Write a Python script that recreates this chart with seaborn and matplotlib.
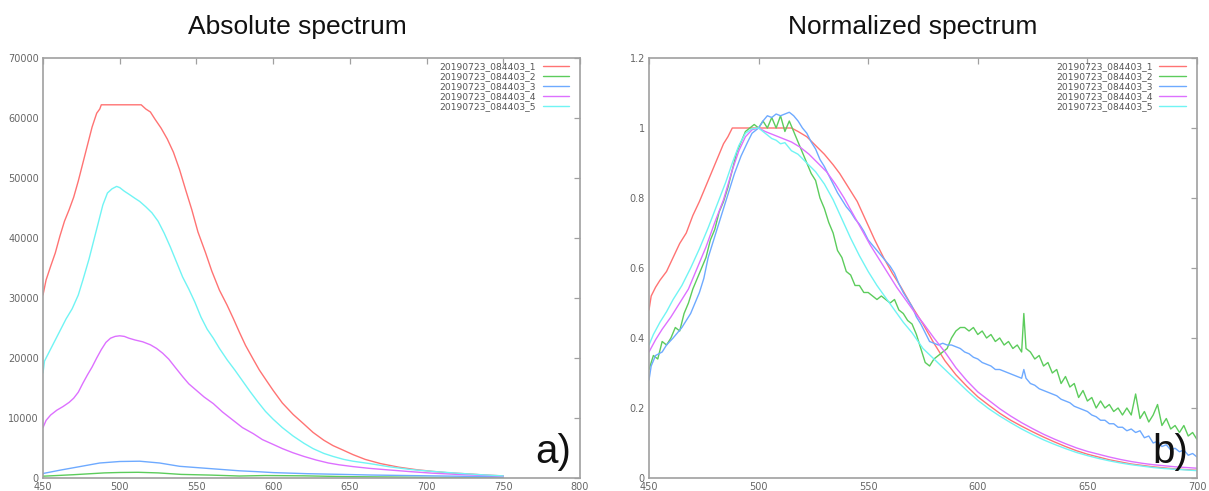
import matplotlib
matplotlib.use("Agg")
import matplotlib.pyplot as plt
import pandas as pd
import seaborn as sns

# ---------------- data ----------------
series_labels = ["20190723_084403_1", "20190723_084403_2", "20190723_084403_3",
                 "20190723_084403_4", "20190723_084403_5"]

# Absolute spectrum (wavelength nm, counts)
abs_1 = [(450, 30500), (452, 33000), (455, 35300), (458, 37500), (461, 40300), (464, 42800),
         (467, 44700), (470, 46800), (473, 49500), (476, 52500), (479, 55500), (482, 58500),
         (485, 60800), (487, 61500), (488, 62200), (500, 62200), (514, 62200), (517, 61500),
         (520, 61000), (523, 59800), (527, 58300), (531, 56500), (535, 54300), (539, 51400),
         (543, 48000), (547, 44700), (551, 41000), (556, 37500), (560, 34500), (565, 31300),
         (570, 28800), (574, 26600), (578, 24300), (582, 22100), (587, 19800), (591, 18000),
         (596, 16100), (600, 14600), (606, 12500), (613, 10600), (620, 9000), (626, 7600),
         (633, 6300), (639, 5400), (646, 4600), (652, 3900), (660, 3100), (670, 2400),
         (682, 1800), (693, 1400), (704, 1100), (715, 850), (726, 700), (738, 500), (750, 350)]
abs_2 = [(450, 300), (470, 550), (490, 850), (500, 920), (512, 950), (525, 850), (540, 600),
         (560, 480), (578, 330), (595, 410), (620, 360), (650, 220), (675, 170), (700, 110),
         (725, 70), (750, 40)]
abs_3 = [(450, 750), (461, 1300), (474, 1900), (487, 2500), (500, 2750), (513, 2800),
         (526, 2500), (539, 1950), (552, 1700), (565, 1450), (578, 1200), (590, 1050),
         (600, 900), (622, 720), (645, 600), (663, 500), (690, 400), (720, 300), (750, 200)]
abs_4 = [(450, 8400), (452, 9600), (455, 10500), (459, 11300), (463, 11900), (467, 12600),
         (470, 13300), (473, 14300), (476, 15800), (479, 17200), (482, 18500), (485, 20000),
         (488, 21400), (491, 22600), (494, 23300), (497, 23600), (500, 23700), (503, 23600),
         (506, 23300), (510, 23000), (515, 22700), (520, 22200), (524, 21600), (528, 20800),
         (532, 19800), (536, 18500), (541, 16900), (545, 15700), (550, 14600), (555, 13500),
         (561, 12400), (567, 11000), (574, 9600), (580, 8400), (587, 7400), (593, 6400),
         (600, 5600), (606, 4900), (613, 4200), (620, 3600), (628, 3000), (636, 2500),
         (643, 2200), (652, 1900), (663, 1600), (675, 1350), (690, 1050), (704, 800),
         (720, 600), (735, 450), (750, 300)]
abs_5 = [(450, 17500), (451, 19500), (454, 21000), (458, 23000), (461, 24500), (465, 26500),
         (469, 28200), (473, 30500), (476, 33000), (480, 36500), (483, 39500), (486, 42500),
         (489, 45500), (492, 47500), (495, 48200), (498, 48600), (500, 48400), (503, 47800),
         (506, 47300), (510, 46600), (513, 46100), (517, 45200), (521, 44200), (525, 42800),
         (529, 40800), (533, 38500), (537, 36000), (541, 33500), (545, 31500), (549, 29300),
         (553, 26800), (557, 24800), (561, 23300), (565, 21600), (570, 19700), (575, 18000),
         (580, 16200), (585, 14400), (590, 12700), (595, 11100), (600, 9800), (606, 8400),
         (613, 7000), (620, 5800), (626, 4900), (633, 4100), (639, 3600), (646, 3100),
         (652, 2800), (663, 2400), (675, 1900), (690, 1400), (704, 1100), (720, 800),
         (735, 550), (750, 350)]

# Normalized spectrum (wavelength nm, relative)
norm_1 = [(450, 0.48), (451, 0.52), (453, 0.545), (455, 0.565), (458, 0.59), (461, 0.63),
          (464, 0.67), (467, 0.70), (470, 0.75), (473, 0.79), (476, 0.835), (479, 0.88),
          (482, 0.925), (484, 0.955), (486, 0.975), (488, 1.0), (500, 1.0), (515, 1.0),
          (518, 0.99), (522, 0.975), (526, 0.95), (530, 0.925), (534, 0.895), (537, 0.87),
          (541, 0.83), (545, 0.79), (549, 0.735), (553, 0.68), (557, 0.63), (561, 0.585),
          (565, 0.545), (570, 0.49), (575, 0.44), (580, 0.385), (585, 0.335), (590, 0.295),
          (595, 0.262), (600, 0.232), (605, 0.208), (610, 0.185), (615, 0.165), (620, 0.148),
          (625, 0.132), (630, 0.117), (635, 0.103), (640, 0.09), (645, 0.078), (650, 0.068),
          (655, 0.06), (660, 0.052), (665, 0.046), (670, 0.04), (675, 0.036), (680, 0.032),
          (685, 0.029), (690, 0.026), (695, 0.024), (700, 0.022)]
norm_2 = [(450, 0.31), (452, 0.35), (454, 0.34), (456, 0.39), (458, 0.38), (460, 0.40),
          (462, 0.43), (464, 0.42), (466, 0.47), (468, 0.50), (470, 0.54), (472, 0.57),
          (474, 0.60), (476, 0.63), (478, 0.68), (480, 0.71), (482, 0.76), (484, 0.79),
          (486, 0.83), (488, 0.88), (490, 0.93), (492, 0.96), (494, 0.99), (496, 1.00),
          (498, 1.01), (500, 1.0), (502, 1.02), (504, 1.0), (506, 1.03), (508, 1.00),
          (510, 1.035), (512, 0.99), (514, 1.02), (516, 0.99), (518, 0.96), (520, 0.93),
          (522, 0.90), (524, 0.87), (526, 0.85), (528, 0.80), (530, 0.77), (532, 0.73),
          (534, 0.70), (536, 0.65), (538, 0.63), (540, 0.59), (542, 0.58), (544, 0.55),
          (546, 0.55), (548, 0.53), (550, 0.53), (552, 0.52), (554, 0.51), (556, 0.52),
          (558, 0.51), (560, 0.50), (562, 0.51), (564, 0.48), (566, 0.47), (568, 0.45),
          (570, 0.44), (572, 0.41), (574, 0.37), (576, 0.33), (578, 0.32), (580, 0.34),
          (582, 0.35), (584, 0.36), (586, 0.37), (588, 0.40), (590, 0.42), (592, 0.43),
          (594, 0.43), (596, 0.42), (598, 0.43), (600, 0.41), (602, 0.42), (604, 0.40),
          (606, 0.41), (608, 0.39), (610, 0.40), (612, 0.38), (614, 0.39), (616, 0.37),
          (618, 0.38), (620, 0.36), (621, 0.47), (622, 0.37), (624, 0.36), (626, 0.34),
          (628, 0.35), (630, 0.32), (632, 0.33), (634, 0.30), (636, 0.31), (638, 0.27),
          (640, 0.29), (642, 0.26), (644, 0.27), (646, 0.23), (648, 0.25), (650, 0.22),
          (652, 0.23), (654, 0.20), (656, 0.22), (658, 0.20), (660, 0.21), (662, 0.19),
          (664, 0.20), (666, 0.18), (668, 0.20), (670, 0.18), (672, 0.24), (674, 0.17),
          (676, 0.19), (678, 0.16), (680, 0.18), (682, 0.21), (684, 0.15), (686, 0.17),
          (688, 0.14), (690, 0.15), (692, 0.13), (694, 0.15), (696, 0.12), (698, 0.13),
          (700, 0.11)]
norm_3 = [(450, 0.28), (451, 0.32), (453, 0.35), (456, 0.36), (458, 0.38), (461, 0.40),
          (463, 0.415), (465, 0.43), (467, 0.45), (469, 0.47), (471, 0.50), (473, 0.53),
          (475, 0.57), (477, 0.63), (480, 0.69), (483, 0.75), (486, 0.81), (489, 0.87),
          (492, 0.92), (495, 0.96), (497, 0.985), (500, 1.0), (502, 1.02), (504, 1.035),
          (506, 1.03), (508, 1.04), (510, 1.035), (512, 1.04), (514, 1.045), (516, 1.035),
          (518, 1.02), (520, 1.0), (522, 0.985), (524, 0.96), (526, 0.94), (528, 0.91),
          (530, 0.89), (532, 0.865), (534, 0.84), (536, 0.815), (538, 0.795), (540, 0.775),
          (542, 0.76), (544, 0.74), (546, 0.725), (548, 0.705), (550, 0.68), (552, 0.665),
          (554, 0.65), (556, 0.635), (558, 0.62), (560, 0.605), (562, 0.585), (564, 0.555),
          (566, 0.53), (568, 0.51), (570, 0.49), (572, 0.46), (574, 0.44), (576, 0.415),
          (578, 0.39), (580, 0.385), (582, 0.38), (584, 0.385), (586, 0.38), (588, 0.38),
          (590, 0.375), (592, 0.37), (594, 0.36), (596, 0.355), (598, 0.345), (600, 0.34),
          (602, 0.33), (604, 0.325), (606, 0.32), (608, 0.31), (610, 0.31), (612, 0.305),
          (614, 0.30), (616, 0.295), (618, 0.29), (620, 0.285), (621, 0.31), (622, 0.285),
          (624, 0.27), (626, 0.265), (628, 0.255), (630, 0.25), (632, 0.245), (634, 0.24),
          (636, 0.235), (638, 0.225), (640, 0.22), (642, 0.215), (644, 0.205), (646, 0.20),
          (648, 0.195), (650, 0.19), (652, 0.18), (654, 0.175), (656, 0.165), (658, 0.165),
          (660, 0.155), (662, 0.155), (664, 0.145), (666, 0.145), (668, 0.135), (670, 0.14),
          (672, 0.13), (674, 0.135), (676, 0.115), (678, 0.12), (680, 0.10), (682, 0.105),
          (684, 0.09), (686, 0.095), (688, 0.08), (690, 0.085), (692, 0.075), (694, 0.08),
          (696, 0.065), (698, 0.07), (700, 0.06)]
norm_4 = [(450, 0.36), (453, 0.395), (456, 0.425), (460, 0.46), (464, 0.50), (468, 0.54),
          (472, 0.60), (476, 0.66), (480, 0.73), (484, 0.795), (488, 0.88), (491, 0.935),
          (494, 0.975), (497, 0.995), (500, 1.0), (503, 0.99), (507, 0.98), (511, 0.97),
          (515, 0.96), (519, 0.945), (523, 0.925), (527, 0.90), (531, 0.875), (535, 0.84),
          (539, 0.80), (543, 0.755), (547, 0.71), (551, 0.665), (555, 0.625), (559, 0.585),
          (563, 0.545), (567, 0.51), (571, 0.475), (575, 0.443), (580, 0.40), (585, 0.36),
          (590, 0.315), (595, 0.278), (600, 0.246), (605, 0.222), (610, 0.198), (615, 0.177),
          (620, 0.158), (625, 0.141), (630, 0.125), (635, 0.111), (640, 0.098), (645, 0.086),
          (650, 0.076), (655, 0.068), (660, 0.06), (665, 0.053), (670, 0.047), (675, 0.042),
          (680, 0.038), (685, 0.035), (690, 0.032), (695, 0.03), (700, 0.028)]
norm_5 = [(450, 0.38), (452, 0.41), (455, 0.445), (458, 0.475), (461, 0.51), (465, 0.55),
          (469, 0.60), (473, 0.655), (477, 0.715), (481, 0.78), (485, 0.845), (488, 0.90),
          (491, 0.95), (494, 0.985), (497, 0.998), (500, 1.0), (503, 0.985), (506, 0.97),
          (508, 0.965), (510, 0.955), (512, 0.958), (515, 0.935), (518, 0.925), (522, 0.90),
          (526, 0.875), (530, 0.84), (534, 0.795), (538, 0.74), (542, 0.685), (546, 0.635),
          (550, 0.59), (554, 0.55), (558, 0.515), (562, 0.48), (566, 0.445), (570, 0.415),
          (575, 0.37), (580, 0.34), (585, 0.31), (590, 0.28), (595, 0.25), (600, 0.222),
          (605, 0.198), (610, 0.177), (615, 0.158), (620, 0.14), (625, 0.124), (630, 0.109),
          (635, 0.096), (640, 0.084), (645, 0.073), (650, 0.064), (655, 0.056), (660, 0.049),
          (665, 0.043), (670, 0.038), (675, 0.034), (680, 0.030), (685, 0.027), (690, 0.025),
          (695, 0.023), (700, 0.021)]

abs_x_ticks = [450, 500, 550, 600, 650, 700, 750, 800]
abs_y_ticks = [0, 10000, 20000, 30000, 40000, 50000, 60000, 70000]
norm_x_ticks = [450, 500, 550, 600, 650, 700]
norm_y_ticks = [0, 0.2, 0.4, 0.6, 0.8, 1.0, 1.2]
norm_y_ticklabels = ["0", "0.2", "0.4", "0.6", "0.8", "1", "1.2"]

panel_titles = ["Absolute spectrum", "Normalized spectrum"]
panel_tags = ["a)", "b)"]

# ---------------- style ----------------
sns.set_theme(style="white")
plt.rcParams["font.family"] = ["DejaVu Sans"]

line_colors = ["#ff7373", "#5ccc5c", "#6eaaff", "#dd70ff", "#70f4f4"]
palette = dict(zip(series_labels, line_colors))
spine_col = "#a0a0a0"
label_col = "#666666"


def to_frame(series_list):
    rows = []
    for lab, pts in zip(series_labels, series_list):
        for x, y in pts:
            rows.append({"wavelength": x, "value": y, "series": lab})
    return pd.DataFrame(rows)


df_abs = to_frame([abs_1, abs_2, abs_3, abs_4, abs_5])
df_norm = to_frame([norm_1, norm_2, norm_3, norm_4, norm_5])

W, H = 1209, 491
fig = plt.figure(figsize=(W / 100, H / 100), dpi=100)
axL = fig.add_axes([43 / W, 13 / H, 537 / W, 420 / H])
axR = fig.add_axes([649 / W, 13 / H, 548 / W, 420 / H])

for ax, df in ((axL, df_abs), (axR, df_norm)):
    sns.lineplot(data=df, x="wavelength", y="value", hue="series", palette=palette,
                 hue_order=series_labels, estimator=None, sort=False, linewidth=1.0,
                 ax=ax, legend=False)

axL.set_xlim(450, 800)
axL.set_ylim(0, 70000)
axL.set_xticks(abs_x_ticks)
axL.set_xticklabels([str(v) for v in abs_x_ticks])
axL.set_yticks(abs_y_ticks)
axL.set_yticklabels([str(v) for v in abs_y_ticks])

axR.set_xlim(450, 700)
axR.set_ylim(0, 1.2)
axR.set_xticks(norm_x_ticks)
axR.set_xticklabels([str(v) for v in norm_x_ticks])
axR.set_yticks(norm_y_ticks)
axR.set_yticklabels(norm_y_ticklabels)

for ax, title_x, title, tag in ((axL, 297, panel_titles[0], panel_tags[0]),
                                (axR, 913, panel_titles[1], panel_tags[1])):
    ax.set_xlabel("")
    ax.set_ylabel("")
    for s in ax.spines.values():
        s.set_visible(True)
        s.set_color(spine_col)
        s.set_linewidth(1.2)
    ax.tick_params(direction="in", length=4, width=0.9, color=spine_col,
                   labelcolor=label_col, labelsize=7, top=True, right=True, pad=3)
    handles = ax.get_lines()[:5]
    ax.legend(handles, series_labels, loc="upper right", bbox_to_anchor=(0.98, 0.99),
              frameon=False, markerfirst=False, fontsize=6.6, handlelength=2.9,
              handletextpad=0.7, labelspacing=0.12, borderaxespad=0, borderpad=0,
              labelcolor="#555555")
    fig.text(title_x / W, 1 - 27 / H, title, ha="center", va="center", fontsize=19,
             family=["Liberation Sans", "DejaVu Sans"], color="#111111")
    ax.text(0.984, 0.035, tag, transform=ax.transAxes, ha="right", va="baseline",
            fontsize=29, family=["Liberation Sans", "DejaVu Sans"], color="#111111")

fig.savefig("out.png", dpi=100, facecolor="white")
